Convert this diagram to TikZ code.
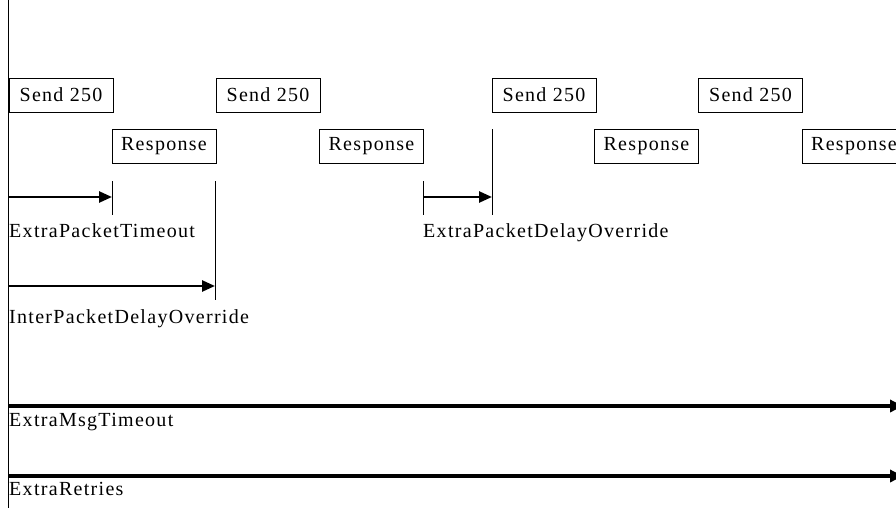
\documentclass[tikz,border=0pt]{standalone}
\usepackage{fontspec}
\setmainfont{Liberation Serif}[LetterSpace=6.5]
\usetikzlibrary{arrows.meta}
\tikzset{
  msg/.style={draw, line width=0.9pt, minimum width=104pt, minimum height=34pt, inner sep=0pt},
  lbl/.style={anchor=base west, inner sep=0pt},
  tick/.style={line width=0.9pt},
  span/.style={line width=2.6pt, -{Triangle[length=13pt,width=11pt]}},
  wide/.style={line width=3.6pt, -{Triangle[length=13pt,width=12pt]}}
}
\begin{document}
\begin{tikzpicture}[x=1pt, y=-1pt, font=\fontsize{20}{24}\selectfont]
      \useasboundingbox (0,0) rectangle (896,522);
      \clip (0,0) rectangle (896,522);
      \draw
        (61,95) node[msg] (s1){Send 250}
        (268,95) node[msg] (s2){Send 250}
        (544,95) node[msg] (s3){Send 250}
        (750.5,95) node[msg] (s4){Send 250}
        (164,146.5) node[msg] (r1){Response}
        (371.5,146.5) node[msg] (r2){Response}
        (646.5,146.5) node[msg] (r3){Response}
        (854,146.5) node[msg] (r4){Response};
      \draw
        (9,237) node[lbl] (ept){ExtraPacketTimeout}
        (9,323) node[lbl] (ipd){InterPacketDelayOverride}
        (423,237) node[lbl] (epd){ExtraPacketDelayOverride}
        (9,426) node[lbl] (emt){ExtraMsgTimeout}
        (9,495) node[lbl] (ert){ExtraRetries};
      \coordinate (top) at (8,0);
      \coordinate (bot) at (8,508);
      \coordinate (t1a) at (112,181);
      \coordinate (t1b) at (112,215);
      \coordinate (t2a) at (215,181);
      \coordinate (t2b) at (215,300);
      \coordinate (t3a) at (423,181);
      \coordinate (t3b) at (423,215);
      \coordinate (t4a) at (492,129);
      \coordinate (t4b) at (492,215);
      \coordinate (a1) at (8,197);
      \coordinate (b1) at (112,197);
      \coordinate (a2) at (8,286);
      \coordinate (b2) at (215,286);
      \coordinate (a3) at (423,197);
      \coordinate (b3) at (492,197);
      \coordinate (a4) at (8,406);
      \coordinate (b4) at (903,406);
      \coordinate (a5) at (8,476);
      \coordinate (b5) at (903,476);
      \begin{scope}[tick]
        \draw (top) to (bot);
        \draw (t1a) to (t1b);
        \draw (t2a) to (t2b);
        \draw (t3a) to (t3b);
        \draw (t4a) to (t4b);
      \end{scope}
      \begin{scope}[span]
        \draw (a1) to (b1);
        \draw (a2) to (b2);
        \draw (a3) to (b3);
      \end{scope}
      \begin{scope}[wide]
        \draw (a4) to (b4);
        \draw (a5) to (b5);
      \end{scope}
    \end{tikzpicture}
\end{document}
